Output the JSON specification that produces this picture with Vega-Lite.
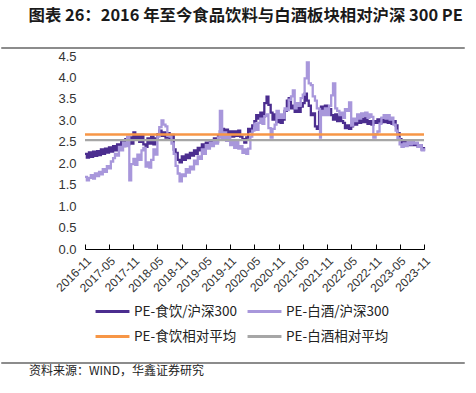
{
  "$schema": "https://vega.github.io/schema/vega-lite/v6.json",
  "background": "white",
  "padding": {"left": 0, "top": 8, "right": 13, "bottom": 4},
  "title": {"text": "图表 26：2016 年至今食品饮料与白酒板块相对沪深 300 PE", "anchor": "start", "dx": 28, "fontSize": 16.4, "font": "Noto Sans CJK SC", "fontWeight": "bold", "color": "#1a1a1a", "offset": 22},
  "config": {
    "view": {"stroke": null},
    "axis": {"labelFont": "Liberation Sans", "labelColor": "#333333", "labelFontSize": 12}
  },
  "spacing": 1,
  "resolve": {"scale": {"color": "independent"}, "legend": {"color": "independent"}},
  "vconcat": [
    {
      "width": 463, "height": 1,
      "view": {"stroke": "#8c8c8c", "strokeWidth": 1},
      "mark": {"type": "rule", "strokeOpacity": 0},
      "encoding": {}
    },
    {
      "spacing": 9,
      "resolve": {"scale": {"color": "independent"}, "legend": {"color": "independent"}},
      "vconcat": [
        {
          "bounds": "flush",
          "spacing": 24,
          "resolve": {"scale": {"color": "independent"}, "legend": {"color": "independent"}},
          "hconcat": [
            {"width": 60, "height": 193, "mark": {"type": "rule", "strokeOpacity": 0}, "encoding": {}},
            {
              "width": 339, "height": 193,
              "data": {"values": [
                {"date":"2016-11-01","PE-食饮/沪深300":2.22,"PE-白酒/沪深300":1.68,"PE-食饮相对平均":2.67,"PE-白酒相对平均":2.54},
                {"date":"2016-11-15","PE-食饮/沪深300":2.13,"PE-白酒/沪深300":1.60},
                {"date":"2016-12-01","PE-食饮/沪深300":2.25,"PE-白酒/沪深300":1.66},
                {"date":"2016-12-15","PE-食饮/沪深300":2.15,"PE-白酒/沪深300":1.72},
                {"date":"2017-01-01","PE-食饮/沪深300":2.27,"PE-白酒/沪深300":1.64},
                {"date":"2017-01-15","PE-食饮/沪深300":2.17,"PE-白酒/沪深300":1.76},
                {"date":"2017-02-01","PE-食饮/沪深300":2.28,"PE-白酒/沪深300":1.70},
                {"date":"2017-02-15","PE-食饮/沪深300":2.19,"PE-白酒/沪深300":1.80},
                {"date":"2017-03-01","PE-食饮/沪深300":2.32,"PE-白酒/沪深300":1.74},
                {"date":"2017-03-15","PE-食饮/沪深300":2.22,"PE-白酒/沪深300":1.86},
                {"date":"2017-04-01","PE-食饮/沪深300":2.34,"PE-白酒/沪深300":1.80},
                {"date":"2017-04-15","PE-食饮/沪深300":2.25,"PE-白酒/沪深300":1.93},
                {"date":"2017-05-01","PE-食饮/沪深300":2.37,"PE-白酒/沪深300":1.88},
                {"date":"2017-05-15","PE-食饮/沪深300":2.27,"PE-白酒/沪深300":2.04},
                {"date":"2017-06-01","PE-食饮/沪深300":2.40,"PE-白酒/沪深300":2.12},
                {"date":"2017-06-15","PE-食饮/沪深300":2.30,"PE-白酒/沪深300":2.22},
                {"date":"2017-07-01","PE-食饮/沪深300":2.44,"PE-白酒/沪深300":2.18},
                {"date":"2017-07-15","PE-食饮/沪深300":2.34,"PE-白酒/沪深300":2.38},
                {"date":"2017-08-01","PE-食饮/沪深300":2.50,"PE-白酒/沪深300":2.30},
                {"date":"2017-08-15","PE-食饮/沪深300":2.40,"PE-白酒/沪深300":2.48},
                {"date":"2017-09-01","PE-食饮/沪深300":2.56,"PE-白酒/沪深300":2.40},
                {"date":"2017-09-15","PE-食饮/沪深300":2.44,"PE-白酒/沪深300":2.62},
                {"date":"2017-10-01","PE-食饮/沪深300":2.60,"PE-白酒/沪深300":1.60},
                {"date":"2017-10-15","PE-食饮/沪深300":2.46,"PE-白酒/沪深300":1.98},
                {"date":"2017-11-01","PE-食饮/沪深300":2.72,"PE-白酒/沪深300":2.10},
                {"date":"2017-11-15","PE-食饮/沪深300":2.56,"PE-白酒/沪深300":1.96},
                {"date":"2017-12-01","PE-食饮/沪深300":2.66,"PE-白酒/沪深300":2.20},
                {"date":"2017-12-15","PE-食饮/沪深300":2.50,"PE-白酒/沪深300":2.08},
                {"date":"2018-01-01","PE-食饮/沪深300":2.66,"PE-白酒/沪深300":2.30},
                {"date":"2018-01-15","PE-食饮/沪深300":2.44,"PE-白酒/沪深300":2.36},
                {"date":"2018-02-01","PE-食饮/沪深300":2.38,"PE-白酒/沪深300":1.92},
                {"date":"2018-02-15","PE-食饮/沪深300":2.58,"PE-白酒/沪深300":2.02},
                {"date":"2018-03-01","PE-食饮/沪深300":2.46,"PE-白酒/沪深300":1.90},
                {"date":"2018-03-15","PE-食饮/沪深300":2.62,"PE-白酒/沪深300":2.08},
                {"date":"2018-04-01","PE-食饮/沪深300":2.44,"PE-白酒/沪深300":2.32},
                {"date":"2018-04-15","PE-食饮/沪深300":2.58,"PE-白酒/沪深300":2.20},
                {"date":"2018-05-01","PE-食饮/沪深300":2.68,"PE-白酒/沪深300":2.62},
                {"date":"2018-05-15","PE-食饮/沪深300":2.76,"PE-白酒/沪深300":2.84},
                {"date":"2018-06-01","PE-食饮/沪深300":2.64,"PE-白酒/沪深300":3.00},
                {"date":"2018-06-15","PE-食饮/沪深300":2.72,"PE-白酒/沪深300":2.90},
                {"date":"2018-07-01","PE-食饮/沪深300":2.60,"PE-白酒/沪深300":2.86},
                {"date":"2018-07-15","PE-食饮/沪深300":2.70,"PE-白酒/沪深300":2.64},
                {"date":"2018-08-01","PE-食饮/沪深300":2.58,"PE-白酒/沪深300":2.62},
                {"date":"2018-08-15","PE-食饮/沪深300":2.66,"PE-白酒/沪深300":2.46},
                {"date":"2018-09-01","PE-食饮/沪深300":2.32,"PE-白酒/沪深300":2.22},
                {"date":"2018-09-15","PE-食饮/沪深300":2.24,"PE-白酒/沪深300":1.94},
                {"date":"2018-10-01","PE-食饮/沪深300":2.08,"PE-白酒/沪深300":1.76},
                {"date":"2018-10-15","PE-食饮/沪深300":2.02,"PE-白酒/沪深300":1.58},
                {"date":"2018-11-01","PE-食饮/沪深300":2.16,"PE-白酒/沪深300":1.74},
                {"date":"2018-11-15","PE-食饮/沪深300":2.08,"PE-白酒/沪深300":1.70},
                {"date":"2018-12-01","PE-食饮/沪深300":2.20,"PE-白酒/沪深300":1.86},
                {"date":"2018-12-15","PE-食饮/沪深300":2.12,"PE-白酒/沪深300":1.78},
                {"date":"2019-01-01","PE-食饮/沪深300":2.24,"PE-白酒/沪深300":1.92},
                {"date":"2019-01-15","PE-食饮/沪深300":2.18,"PE-白酒/沪深300":1.86},
                {"date":"2019-02-01","PE-食饮/沪深300":2.30,"PE-白酒/沪深300":2.06},
                {"date":"2019-02-15","PE-食饮/沪深300":2.22,"PE-白酒/沪深300":1.98},
                {"date":"2019-03-01","PE-食饮/沪深300":2.36,"PE-白酒/沪深300":2.16},
                {"date":"2019-03-15","PE-食饮/沪深300":2.30,"PE-白酒/沪深300":2.10},
                {"date":"2019-04-01","PE-食饮/沪深300":2.44,"PE-白酒/沪深300":2.32},
                {"date":"2019-04-15","PE-食饮/沪深300":2.36,"PE-白酒/沪深300":2.22},
                {"date":"2019-05-01","PE-食饮/沪深300":2.48,"PE-白酒/沪深300":2.42},
                {"date":"2019-05-15","PE-食饮/沪深300":2.40,"PE-白酒/沪深300":2.34},
                {"date":"2019-06-01","PE-食饮/沪深300":2.52,"PE-白酒/沪深300":2.48},
                {"date":"2019-06-15","PE-食饮/沪深300":2.46,"PE-白酒/沪深300":2.40},
                {"date":"2019-07-01","PE-食饮/沪深300":2.58,"PE-白酒/沪深300":2.52},
                {"date":"2019-07-15","PE-食饮/沪深300":2.50,"PE-白酒/沪深300":2.46},
                {"date":"2019-08-01","PE-食饮/沪深300":2.64,"PE-白酒/沪深300":2.60},
                {"date":"2019-08-15","PE-食饮/沪深300":2.74,"PE-白酒/沪深300":3.22},
                {"date":"2019-09-01","PE-食饮/沪深300":2.80,"PE-白酒/沪深300":2.58},
                {"date":"2019-09-15","PE-食饮/沪深300":2.68,"PE-白酒/沪深300":2.72},
                {"date":"2019-10-01","PE-食饮/沪深300":2.78,"PE-白酒/沪深300":2.52},
                {"date":"2019-10-15","PE-食饮/沪深300":2.66,"PE-白酒/沪深300":2.64},
                {"date":"2019-11-01","PE-食饮/沪深300":2.74,"PE-白酒/沪深300":2.42},
                {"date":"2019-11-15","PE-食饮/沪深300":2.62,"PE-白酒/沪深300":2.54},
                {"date":"2019-12-01","PE-食饮/沪深300":2.74,"PE-白酒/沪深300":2.36},
                {"date":"2019-12-15","PE-食饮/沪深300":2.64,"PE-白酒/沪深300":2.50},
                {"date":"2020-01-01","PE-食饮/沪深300":2.76,"PE-白酒/沪深300":2.34},
                {"date":"2020-01-15","PE-食饮/沪深300":2.62,"PE-白酒/沪深300":2.40},
                {"date":"2020-02-01","PE-食饮/沪深300":2.56,"PE-白酒/沪深300":2.24},
                {"date":"2020-02-15","PE-食饮/沪深300":2.48,"PE-白酒/沪深300":2.32},
                {"date":"2020-03-01","PE-食饮/沪深300":2.60,"PE-白酒/沪深300":2.22},
                {"date":"2020-03-15","PE-食饮/沪深300":2.80,"PE-白酒/沪深300":2.34},
                {"date":"2020-04-01","PE-食饮/沪深300":2.74,"PE-白酒/沪深300":2.62},
                {"date":"2020-04-15","PE-食饮/沪深300":2.88,"PE-白酒/沪深300":2.76},
                {"date":"2020-05-01","PE-食饮/沪深300":2.98,"PE-白酒/沪深300":2.92},
                {"date":"2020-05-15","PE-食饮/沪深300":3.12,"PE-白酒/沪深300":2.78},
                {"date":"2020-06-01","PE-食饮/沪深300":3.04,"PE-白酒/沪深300":2.94},
                {"date":"2020-06-15","PE-食饮/沪深300":3.18,"PE-白酒/沪深300":3.04},
                {"date":"2020-07-01","PE-食饮/沪深300":3.08,"PE-白酒/沪深300":2.92},
                {"date":"2020-07-15","PE-食饮/沪深300":3.40,"PE-白酒/沪深300":3.10},
                {"date":"2020-08-01","PE-食饮/沪深300":3.55,"PE-白酒/沪深300":3.14},
                {"date":"2020-08-15","PE-食饮/沪深300":3.36,"PE-白酒/沪深300":2.82},
                {"date":"2020-09-01","PE-食饮/沪深300":3.18,"PE-白酒/沪深300":2.60},
                {"date":"2020-09-15","PE-食饮/沪深300":3.02,"PE-白酒/沪深300":2.80},
                {"date":"2020-10-01","PE-食饮/沪深300":3.14,"PE-白酒/沪深300":2.90},
                {"date":"2020-10-15","PE-食饮/沪深300":2.96,"PE-白酒/沪深300":3.22},
                {"date":"2020-11-01","PE-食饮/沪深300":3.04,"PE-白酒/沪深300":3.06},
                {"date":"2020-11-15","PE-食饮/沪深300":2.94,"PE-白酒/沪深300":3.14},
                {"date":"2020-12-01","PE-食饮/沪深300":3.02,"PE-白酒/沪深300":3.06},
                {"date":"2020-12-15","PE-食饮/沪深300":3.22,"PE-白酒/沪深300":3.28},
                {"date":"2021-01-01","PE-食饮/沪深300":3.46,"PE-白酒/沪深300":3.24},
                {"date":"2021-01-15","PE-食饮/沪深300":3.52,"PE-白酒/沪深300":3.48},
                {"date":"2021-02-01","PE-食饮/沪深300":3.28,"PE-白酒/沪深300":3.56},
                {"date":"2021-02-15","PE-食饮/沪深300":3.34,"PE-白酒/沪深300":3.70},
                {"date":"2021-03-01","PE-食饮/沪深300":3.20,"PE-白酒/沪深300":3.28},
                {"date":"2021-03-15","PE-食饮/沪深300":3.30,"PE-白酒/沪深300":3.40},
                {"date":"2021-04-01","PE-食饮/沪深300":3.20,"PE-白酒/沪深300":3.34},
                {"date":"2021-04-15","PE-食饮/沪深300":3.32,"PE-白酒/沪深300":3.52},
                {"date":"2021-05-01","PE-食饮/沪深300":3.40,"PE-白酒/沪深300":3.60},
                {"date":"2021-05-15","PE-食饮/沪深300":3.62,"PE-白酒/沪深300":3.98},
                {"date":"2021-06-01","PE-食饮/沪深300":3.46,"PE-白酒/沪深300":4.35},
                {"date":"2021-06-15","PE-食饮/沪深300":3.34,"PE-白酒/沪深300":3.86},
                {"date":"2021-07-01","PE-食饮/沪深300":3.12,"PE-白酒/沪深300":3.82},
                {"date":"2021-07-15","PE-食饮/沪深300":3.16,"PE-白酒/沪深300":3.56},
                {"date":"2021-08-01","PE-食饮/沪深300":2.86,"PE-白酒/沪深300":3.46},
                {"date":"2021-08-15","PE-食饮/沪深300":2.80,"PE-白酒/沪深300":3.28},
                {"date":"2021-09-01","PE-食饮/沪深300":3.20,"PE-白酒/沪深300":3.26},
                {"date":"2021-09-08","PE-食饮/沪深300":3.16,"PE-白酒/沪深300":2.60},
                {"date":"2021-09-15","PE-食饮/沪深300":3.32,"PE-白酒/沪深300":3.22},
                {"date":"2021-10-01","PE-食饮/沪深300":3.20,"PE-白酒/沪深300":3.12},
                {"date":"2021-10-15","PE-食饮/沪深300":3.34,"PE-白酒/沪深300":3.28},
                {"date":"2021-11-01","PE-食饮/沪深300":3.16,"PE-白酒/沪深300":3.12},
                {"date":"2021-11-15","PE-食饮/沪深300":3.26,"PE-白酒/沪深300":3.34},
                {"date":"2021-12-01","PE-食饮/沪深300":3.12,"PE-白酒/沪深300":3.58},
                {"date":"2021-12-15","PE-食饮/沪深300":3.02,"PE-白酒/沪深300":3.86},
                {"date":"2022-01-01","PE-食饮/沪深300":3.14,"PE-白酒/沪深300":3.28},
                {"date":"2022-01-15","PE-食饮/沪深300":2.98,"PE-白酒/沪深300":3.22},
                {"date":"2022-02-01","PE-食饮/沪深300":3.10,"PE-白酒/沪深300":3.12},
                {"date":"2022-02-15","PE-食饮/沪深300":2.98,"PE-白酒/沪深300":3.18},
                {"date":"2022-03-01","PE-食饮/沪深300":2.94,"PE-白酒/沪深300":3.06},
                {"date":"2022-03-15","PE-食饮/沪深300":2.82,"PE-白酒/沪深300":3.26},
                {"date":"2022-04-01","PE-食饮/沪深300":2.88,"PE-白酒/沪深300":3.22},
                {"date":"2022-04-15","PE-食饮/沪深300":2.80,"PE-白酒/沪深300":3.42},
                {"date":"2022-05-01","PE-食饮/沪深300":2.86,"PE-白酒/沪深300":2.88},
                {"date":"2022-05-15","PE-食饮/沪深300":2.94,"PE-白酒/沪深300":3.04},
                {"date":"2022-06-01","PE-食饮/沪深300":2.90,"PE-白酒/沪深300":2.98},
                {"date":"2022-06-15","PE-食饮/沪深300":3.06,"PE-白酒/沪深300":3.14},
                {"date":"2022-07-01","PE-食饮/沪深300":2.94,"PE-白酒/沪深300":3.04},
                {"date":"2022-07-15","PE-食饮/沪深300":3.04,"PE-白酒/沪深300":3.16},
                {"date":"2022-08-01","PE-食饮/沪深300":2.96,"PE-白酒/沪深300":3.10},
                {"date":"2022-08-15","PE-食饮/沪深300":3.08,"PE-白酒/沪深300":3.18},
                {"date":"2022-09-01","PE-食饮/沪深300":2.92,"PE-白酒/沪深300":3.06},
                {"date":"2022-09-15","PE-食饮/沪深300":2.98,"PE-白酒/沪深300":3.14},
                {"date":"2022-10-01","PE-食饮/沪深300":2.90,"PE-白酒/沪深300":3.08},
                {"date":"2022-10-15","PE-食饮/沪深300":2.98,"PE-白酒/沪深300":2.60},
                {"date":"2022-11-01","PE-食饮/沪深300":2.94,"PE-白酒/沪深300":2.68},
                {"date":"2022-11-15","PE-食饮/沪深300":3.02,"PE-白酒/沪深300":2.74},
                {"date":"2022-12-01","PE-食饮/沪深300":2.94,"PE-白酒/沪深300":2.92},
                {"date":"2022-12-15","PE-食饮/沪深300":3.04,"PE-白酒/沪深300":3.06},
                {"date":"2023-01-01","PE-食饮/沪深300":2.96,"PE-白酒/沪深300":3.12},
                {"date":"2023-01-15","PE-食饮/沪深300":3.04,"PE-白酒/沪深300":3.04},
                {"date":"2023-02-01","PE-食饮/沪深300":2.94,"PE-白酒/沪深300":3.12},
                {"date":"2023-02-15","PE-食饮/沪深300":3.02,"PE-白酒/沪深300":3.02},
                {"date":"2023-03-01","PE-食饮/沪深300":2.92,"PE-白酒/沪深300":3.06},
                {"date":"2023-03-15","PE-食饮/沪深300":2.98,"PE-白酒/沪深300":2.90},
                {"date":"2023-04-01","PE-食饮/沪深300":2.88,"PE-白酒/沪深300":2.76},
                {"date":"2023-04-15","PE-食饮/沪深300":2.70,"PE-白酒/沪深300":2.58},
                {"date":"2023-05-01","PE-食饮/沪深300":2.56,"PE-白酒/沪深300":2.44},
                {"date":"2023-05-15","PE-食饮/沪深300":2.46,"PE-白酒/沪深300":2.38},
                {"date":"2023-06-01","PE-食饮/沪深300":2.52,"PE-白酒/沪深300":2.46},
                {"date":"2023-06-15","PE-食饮/沪深300":2.44,"PE-白酒/沪深300":2.40},
                {"date":"2023-07-01","PE-食饮/沪深300":2.50,"PE-白酒/沪深300":2.52},
                {"date":"2023-07-15","PE-食饮/沪深300":2.42,"PE-白酒/沪深300":2.44},
                {"date":"2023-08-01","PE-食饮/沪深300":2.52,"PE-白酒/沪深300":2.54},
                {"date":"2023-08-15","PE-食饮/沪深300":2.42,"PE-白酒/沪深300":2.46},
                {"date":"2023-09-01","PE-食饮/沪深300":2.46,"PE-白酒/沪深300":2.48},
                {"date":"2023-09-15","PE-食饮/沪深300":2.38,"PE-白酒/沪深300":2.38},
                {"date":"2023-10-01","PE-食饮/沪深300":2.42,"PE-白酒/沪深300":2.42},
                {"date":"2023-10-15","PE-食饮/沪深300":2.32,"PE-白酒/沪深300":2.30},
                {"date":"2023-11-01","PE-食饮/沪深300":2.38,"PE-白酒/沪深300":2.35,"PE-食饮相对平均":2.67,"PE-白酒相对平均":2.54}
              ]},
              "transform": [
                {"fold": ["PE-食饮/沪深300", "PE-白酒/沪深300", "PE-食饮相对平均", "PE-白酒相对平均"], "as": ["series", "value"]},
                {"filter": "isValid(datum.value)"}
              ],
              "mark": {"type": "line", "interpolate": "step-after", "strokeWidth": 2.3},
              "encoding": {
                "x": {
                  "field": "date", "type": "temporal",
                  "scale": {"domain": [{"year": 2016, "month": 11, "date": 1}, {"year": 2023, "month": 11, "date": 1}]},
                  "axis": {
                    "title": null, "format": "%Y-%m", "grid": false, "labelOverlap": false,
                    "values": [
                      {"year": 2016, "month": 11, "date": 1}, {"year": 2017, "month": 5, "date": 1},
                      {"year": 2017, "month": 11, "date": 1}, {"year": 2018, "month": 5, "date": 1},
                      {"year": 2018, "month": 11, "date": 1}, {"year": 2019, "month": 5, "date": 1},
                      {"year": 2019, "month": 11, "date": 1}, {"year": 2020, "month": 5, "date": 1},
                      {"year": 2020, "month": 11, "date": 1}, {"year": 2021, "month": 5, "date": 1},
                      {"year": 2021, "month": 11, "date": 1}, {"year": 2022, "month": 5, "date": 1},
                      {"year": 2022, "month": 11, "date": 1}, {"year": 2023, "month": 5, "date": 1},
                      {"year": 2023, "month": 11, "date": 1}
                    ],
                    "labelAngle": -45, "labelPadding": 11, "tickSize": -5,
                    "domainColor": "#000000", "tickColor": "#000000", "labelFontSize": 12
                  }
                },
                "y": {
                  "field": "value", "type": "quantitative",
                  "scale": {"domain": [0, 4.5], "nice": false},
                  "axis": {
                    "title": null, "values": [0, 0.5, 1, 1.5, 2, 2.5, 3, 3.5, 4, 4.5],
                    "format": ".1f", "grid": false, "domain": false, "ticks": false,
                    "labelPadding": 9, "labelFontSize": 13
                  }
                },
                "color": {
                  "field": "series", "type": "nominal",
                  "scale": {
                    "domain": ["PE-食饮/沪深300", "PE-白酒/沪深300", "PE-食饮相对平均", "PE-白酒相对平均"],
                    "range": ["#4b2d8f", "#a897db", "#f79646", "#a6a6a6"]
                  },
                  "legend": {
                    "title": null, "orient": "bottom", "columns": 2,
                    "symbolType": "stroke", "symbolStrokeWidth": 3, "symbolSize": 1150,
                    "labelFont": "Noto Sans CJK SC", "labelFontSize": 13.5, "labelColor": "#222222",
                    "columnPadding": 4, "rowPadding": 0, "labelOffset": 3, "offset": -10, "padding": 9
                  }
                }
              }
            }
          ]
        },
        {
          "width": 463, "height": 1,
          "view": {"stroke": "#8c8c8c", "strokeWidth": 1},
          "mark": {"type": "rule", "strokeOpacity": 0},
          "encoding": {},
          "title": {"text": "资料来源：WIND，华鑫证券研究", "orient": "bottom", "anchor": "start", "dx": 28, "fontSize": 12, "fontWeight": "normal", "font": "Noto Sans CJK SC", "color": "#222222", "offset": 3}
        }
      ]
    }
  ]
}
